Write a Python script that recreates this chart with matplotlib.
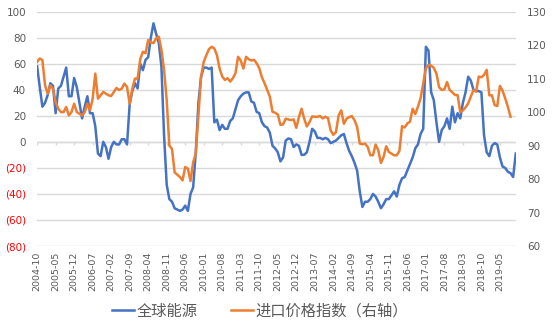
import matplotlib
matplotlib.use("Agg")
import matplotlib.pyplot as plt
import numpy as np

plt.rcParams['font.family'] = ['Noto Sans CJK SC', 'DejaVu Sans']

# monthly data starting 2004-10
start_year, start_month = 2004, 10

energy = [58, 42, 27, 30, 36, 45, 43, 22, 41, 43, 50, 57, 35, 35, 49, 42, 30, 18, 27, 35,
          22, 22, 12, -9, -11, 0, -4, -13, -4, 0, -2, -2, 2, 2, -2, 29, 39, 45, 41, 60,
          55, 63, 65, 80, 91, 83, 76, 58, 5, -33, -44, -46, -51, -52, -53, -52, -49, -53, -40, -35,
          -8, 30, 50, 57, 57, 56, 57, 15, 17, 9, 13, 10, 10, 16, 18, 25, 32, 35, 37, 38,
          38, 31, 30, 23, 22, 15, 12, 11, 7, -3, -5, -8, -15, -12, 1, 2.6, 2, -4, -2, -3,
          -10, -10, -8, 0, 10, 8, 3, 3, 2, 3, 2, -1, 0, 1, 3, 5, 6, -1, -7, -11,
          -16, -22, -38, -50, -46, -46, -44, -40, -42, -46, -51, -48, -44, -44, -41, -38, -42, -33, -28, -27,
          -22, -17, -12, -5, -2, 6, 10, 73, 70, 38, 32, 15, 0, 9, 12, 18, 10, 27, 15, 22,
          18, 30, 38, 50, 47, 40, 39, 39, 38, 5, -8, -11, -3, -1, -2, -12, -19, -20, -23, -24,
          -27, -9]

import_idx = [115, 116, 115.5, 108, 105.5, 108, 107, 103, 101, 100, 100, 101.5, 99, 100, 102.5, 100, 99.5, 99, 100, 102.5,
              100.5, 104, 111.5, 104, 105, 106, 105.5, 105, 104.8, 106, 107.2, 106.6, 107, 108.5, 107.5, 102.5, 107, 110, 110, 115.8,
              118, 117.6, 121.5, 120.8, 120.6, 122, 122.5, 118.6, 112.6, 103.6, 90, 89, 82, 81.3, 80.6, 79.6, 83.6, 83.1, 79.4, 85,
              87.6, 99, 110.6, 115, 117, 118.8, 119.5, 119, 117, 113, 110.6, 109.6, 110.1, 109.1, 110.1, 111.6, 116.5, 115.4, 113, 116.5,
              115.8, 115.4, 115.6, 114.6, 113.1, 110.4, 108.6, 106.6, 104.6, 100.1, 99.8, 99.3, 96.2, 96.3, 98, 97.8, 97.6, 97.8, 95.3, 98.5,
              101, 98, 95.7, 97, 98.7, 98.6, 98.6, 98.8, 98.1, 98.6, 98.2, 94.5, 93.2, 94, 99, 100.5, 96.5, 98, 98.5, 98.8,
              97.6, 95.6, 90.6, 90.4, 90.6, 89.6, 87.1, 87.1, 90.3, 88.6, 84.8, 86.6, 89.8, 88.1, 87.6, 87.1, 87.1, 88.4, 95.8, 95.4,
              96.6, 97.1, 101, 99.4, 101.6, 104.1, 108.6, 113, 114.1, 113.9, 113.2, 111.5, 107.4, 106.6, 106.8, 109, 106.6, 105.9, 105.1, 105.1,
              100, 100.5, 101.4, 102.6, 104.6, 106.6, 106.1, 110.6, 110.4, 111.1, 112.6, 105, 105, 102.1, 101.8, 107.8, 106.4, 104.1, 101.6, 98.6]

left_ticks = [-80, -60, -40, -20, 0, 20, 40, 60, 80, 100]
right_ticks = [60, 70, 80, 90, 100, 110, 120, 130]

BLUE = '#4472C4'
ORANGE = '#ED7D31'
GRAY = '#595959'
GRID = '#D9D9D9'


def month_label(i):
    t = start_year * 12 + start_month - 1 + i
    return '%d-%02d' % (t // 12, t % 12 + 1)


x1 = np.arange(len(energy))
x2 = np.arange(len(import_idx))
xticks = list(range(0, len(energy), 7))

fig = plt.figure(figsize=(5.54, 3.32), dpi=100)
ax = fig.add_axes([0.067, 0.259, 0.864, 0.706])
ax2 = ax.twinx()

ax.set_ylim(-80, 100)
ax.set_yticks(left_ticks)
ax.grid(axis='y', color=GRID, lw=1.0)
ax.set_axisbelow(True)
ax.set_xlim(0, len(energy) - 1)

# category axis sits at zero with small ticks
ax.axhline(0, color=GRID, lw=1.0, zorder=1)
ax.vlines(xticks, -2.5, 0, color=GRID, lw=1.0, zorder=1)

l1, = ax.plot(x1, energy, color=BLUE, lw=1.8, label='全球能源', zorder=3)
l2, = ax2.plot(x2, import_idx, color=ORANGE, lw=1.8, label='进口价格指数（右轴）', zorder=3)

ax2.set_ylim(60, 130)
ax2.set_yticks(right_ticks)

labels = []
for v in left_ticks:
    labels.append('(%d)' % abs(v) if v < 0 else '%d' % v)
ax.set_yticklabels(labels, fontsize=7.5, family='DejaVu Sans')
for t, v in zip(ax.get_yticklabels(), left_ticks):
    t.set_color('red' if v < 0 else GRAY)
ax2.set_yticklabels([str(v) for v in right_ticks], fontsize=7.5, color=GRAY, family='DejaVu Sans')

ax.set_xticks(xticks)
ax.set_xticklabels([month_label(i) for i in xticks], rotation=90, fontsize=6.8,
                   color=GRAY, family='DejaVu Sans')

for a in (ax, ax2):
    for s in a.spines.values():
        s.set_visible(False)
    a.tick_params(length=0, pad=3)
ax.tick_params(axis='y', pad=8)
ax2.tick_params(axis='y', pad=8)
ax.tick_params(axis='x', pad=4)

fig.legend(handles=[l1, l2], loc='center', bbox_to_anchor=(0.47, 0.063), ncol=2,
           frameon=False, fontsize=11, labelcolor=GRAY, handlelength=1.4,
           handletextpad=0.2, columnspacing=2.2)

fig.savefig('out.png', dpi=100)
